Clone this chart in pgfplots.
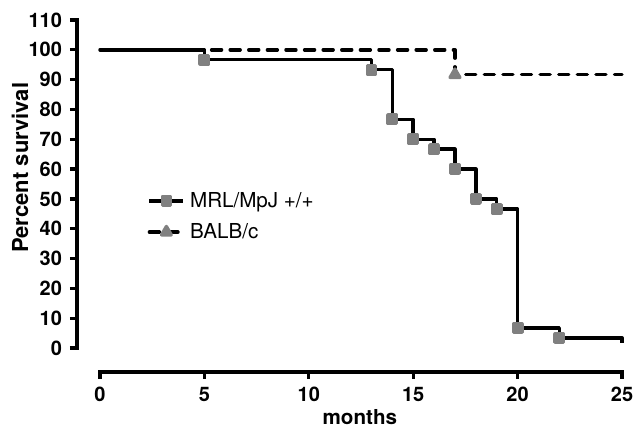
\documentclass[border=0pt]{standalone}
\usepackage{pgfplots}
\pgfplotsset{compat=1.18}
\usepackage{fontspec}
\setmainfont{TeX Gyre Heros}
\definecolor{mkgray}{RGB}{128,128,128}
\begin{document}
\begin{tikzpicture}[x=1pt,y=1pt]
\useasboundingbox (0,0) rectangle (318,213.5);
\begin{axis}[
  at={(38.5pt,27.5pt)}, anchor=south west,
  scale only axis, width=272.5pt, height=176pt,
  xmin=-1.1, xmax=25, ymin=-8.05, ymax=110,
  clip=false,
  axis x line=bottom, axis y line=left,
  axis line style={-},
  x axis line style={draw=none}, y axis line style={draw=none},
  xtick={0,5,10,15,20,25}, ytick={0,10,20,30,40,50,60,70,80,90,100,110},
  tick align=outside, major tick length=3.5pt,
  tick style={black, line width=1.6pt},
  major tick style={black, line width=1.6pt},
  /pgf/number format/assume math mode=true,
  ticklabel style={font=\bfseries\fontsize{10}{12}\selectfont},
  yticklabel style={xshift=-0.5pt},
  xticklabel style={yshift=-0.5pt},
  xlabel={months}, ylabel={Percent survival},
  xlabel style={font=\bfseries\fontsize{10.3}{12}\selectfont, inner sep=0pt, at={(axis description cs:0.519,-0.128)}, anchor=center},
  ylabel style={font=\bfseries\fontsize{11}{12}\selectfont, inner sep=0pt, at={(axis description cs:-0.1046,0.58)}, anchor=center},
  legend style={at={(axis description cs:0.129,0.518)}, anchor=north west,
    draw=none, fill=none, font=\fontsize{10.3}{12}\selectfont,
    row sep=4.5pt, inner sep=0pt, nodes={inner sep=1pt},
    /tikz/every odd column/.append style={column sep=1.5pt}},
  legend cell align=left,
  legend image code/.code={\draw[mark repeat=2,mark phase=2,#1,sharp plot] plot coordinates {(0pt,0pt) (8.5pt,0pt) (17pt,0pt)};},
]
\addplot[const plot, black, line width=1.7pt, line join=round,
  mark=square*, mark size=2.1pt, mark options={solid, fill=mkgray, draw=mkgray},
  mark indices={2,3,4,5,6,7,8,9,10,11},
  legend image post style={mark indices={2}}]
  coordinates {(0,100) (5,96.67) (13,93.33) (14,76.67) (15,70) (16,66.67) (17,60)
               (18,50) (19,46.67) (20,6.67) (22,3.33) (25,1.7)};
\addlegendentry{MRL/MpJ +/+}
\addplot[const plot, black, line width=1.7pt, line join=round, line cap=round,
  dash pattern=on 5pt off 4.3pt,
  mark=triangle*, mark size=2.8pt, mark options={solid, fill=mkgray, draw=mkgray},
  mark indices={2},
  legend image post style={mark indices={2}}]
  coordinates {(0,100) (17,91.67) (25,91.67)};
\addlegendentry{BALB/c}
\draw[line width=1.7pt, line cap=rect] (axis cs:-1.1,0) -- (axis cs:-1.1,110);
\draw[line width=1.7pt, line cap=rect] (axis cs:0,-8.05) -- (axis cs:25,-8.05);
\end{axis}
\end{tikzpicture}
\end{document}
